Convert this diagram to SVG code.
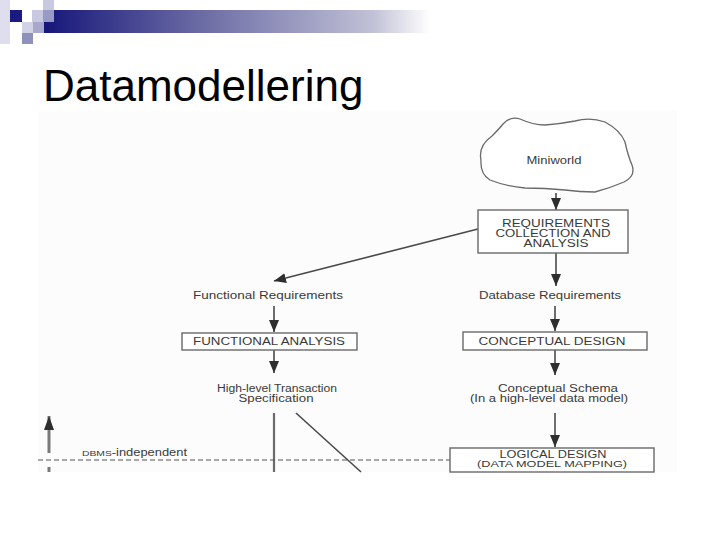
<svg xmlns="http://www.w3.org/2000/svg" width="720" height="540" viewBox="0 0 720 540">
  <defs>
    <linearGradient id="bar" x1="44" y1="0" x2="430" y2="0" gradientUnits="userSpaceOnUse">
      <stop offset="0" stop-color="#16167a"/>
      <stop offset="0.4" stop-color="#6a6aa4"/>
      <stop offset="0.85" stop-color="#c0c0d6"/>
      <stop offset="1" stop-color="#ffffff"/>
    </linearGradient>
    <marker id="ah" markerUnits="userSpaceOnUse" markerWidth="12" markerHeight="10" refX="12" refY="5" orient="auto" viewBox="0 0 12 10">
      <path d="M0,0 L12,5 L0,10 z" fill="#2e2e2e"/>
    </marker>
    <marker id="ahBig" markerUnits="userSpaceOnUse" markerWidth="14" markerHeight="10" refX="14" refY="5" orient="auto" viewBox="0 0 14 10">
      <path d="M0,0 L14,5 L0,10 z" fill="#2e2e2e"/>
    </marker>
    <style>
      .lbl { font-family: "Liberation Sans", Arial, sans-serif; font-size: 10px; fill: #3a3a3a; text-anchor: middle; }
      .box { fill: #ffffff; stroke: #6a6a6a; stroke-width: 1.4; }
      .ln { stroke: #4a4a4a; stroke-width: 1.6; fill: none; }
      .thick { stroke: #6c6c6c; stroke-width: 2.2; fill: none; }
    </style>
  </defs>

  <rect width="720" height="540" fill="#ffffff"/>

  <!-- template decoration -->
  <g id="decoration">
    <rect x="0" y="0" width="10" height="44" fill="#dedeee"/>
    <rect x="44" y="10" width="390" height="23" fill="url(#bar)"/>
    <rect x="10" y="10" width="12" height="12" fill="#1a1a80"/>
    <rect x="32" y="10" width="11" height="12" fill="#c8c8e0"/>
    <rect x="43" y="0" width="11" height="10" fill="#c8c8e0"/>
    <rect x="43" y="10" width="11" height="12" fill="#9a9ac6"/>
    <rect x="22" y="22" width="11" height="11" fill="#d2d2e6"/>
    <rect x="33" y="22" width="11" height="11" fill="#a8a8cc"/>
    <rect x="22" y="33" width="11" height="11" fill="#9090bc"/>
  </g>

  <text id="title" x="43" y="101" font-family="Liberation Sans, Arial, sans-serif" font-size="44" fill="#000000">Datamodellering</text>

  <!-- picture area -->
  <rect x="38" y="111" width="639" height="361" fill="#fcfcfc"/>

  <g id="connectors">
    <line class="ln" x1="556" y1="193" x2="556" y2="210" marker-end="url(#ah)"/>
    <line class="ln" x1="556" y1="253" x2="556" y2="286" marker-end="url(#ah)"/>
    <line class="ln" x1="478" y1="229" x2="274" y2="281" stroke-width="1.2" marker-end="url(#ah)"/>
    <line class="ln" x1="274" y1="306" x2="274" y2="332" marker-end="url(#ah)"/>
    <line class="ln" x1="555" y1="306" x2="555" y2="331" marker-end="url(#ah)"/>
    <line class="ln" x1="274" y1="350" x2="274" y2="373" marker-end="url(#ah)"/>
    <line class="ln" x1="555" y1="350" x2="555" y2="375" marker-end="url(#ah)"/>
    <line class="ln" x1="555" y1="413" x2="555" y2="447" marker-end="url(#ah)"/>
    <line class="thick" x1="274" y1="413" x2="274" y2="472"/>
    <line class="ln" x1="296" y1="413" x2="361" y2="472" stroke-width="1.2"/>
    <line x1="38" y1="460" x2="450" y2="460" stroke="#555555" stroke-width="1" stroke-dasharray="5,3"/>
    <line x1="49" y1="453" x2="49" y2="416" stroke="#7a7a7a" stroke-width="3" marker-end="url(#ahBig)"/>
    <line x1="49" y1="467" x2="49" y2="472" stroke="#7a7a7a" stroke-width="3"/>
  </g>

  <g id="miniworld">
    <path d="M481,160 Q478,146 492,136 Q500,128 503,124 Q510,116 520,119 Q533,125 545,125 Q560,124 575,121 Q590,117 605,122 Q620,130 625,142 Q628,156 632,165 Q636,176 624,182 Q610,188 595,192 Q580,192 565,190 Q545,188 525,188 Q505,186 490,180 Q480,174 481,160 Z" fill="#ffffff" stroke="#6a6a6a" stroke-width="1.3"/>
    <text class="lbl" x="554" y="164" textLength="55" lengthAdjust="spacingAndGlyphs">Miniworld</text>
  </g>

  <g id="requirements">
    <rect class="box" x="478" y="210" width="150" height="43"/>
    <text class="lbl" x="556" y="227" textLength="108" lengthAdjust="spacingAndGlyphs">REQUIREMENTS</text>
    <text class="lbl" x="553" y="237" textLength="115" lengthAdjust="spacingAndGlyphs">COLLECTION AND</text>
    <text class="lbl" x="556" y="247" textLength="65" lengthAdjust="spacingAndGlyphs">ANALYSIS</text>
  </g>

  <g id="functional-requirements">
    <text class="lbl" x="268" y="299" textLength="150" lengthAdjust="spacingAndGlyphs">Functional Requirements</text>
  </g>

  <g id="database-requirements">
    <text class="lbl" x="550" y="299" textLength="142" lengthAdjust="spacingAndGlyphs">Database Requirements</text>
  </g>

  <g id="functional-analysis">
    <rect class="box" x="182" y="333" width="175" height="17"/>
    <text class="lbl" x="269" y="345" textLength="152" lengthAdjust="spacingAndGlyphs">FUNCTIONAL ANALYSIS</text>
  </g>

  <g id="conceptual-design">
    <rect class="box" x="463" y="332" width="184" height="18"/>
    <text class="lbl" x="552" y="345" textLength="147" lengthAdjust="spacingAndGlyphs">CONCEPTUAL DESIGN</text>
  </g>

  <g id="transaction-spec">
    <text class="lbl" x="277" y="392" textLength="120" lengthAdjust="spacingAndGlyphs">High-level Transaction</text>
    <text class="lbl" x="276" y="402" textLength="75" lengthAdjust="spacingAndGlyphs">Specification</text>
  </g>

  <g id="conceptual-schema">
    <text class="lbl" x="558" y="392" textLength="120" lengthAdjust="spacingAndGlyphs">Conceptual Schema</text>
    <text class="lbl" x="549" y="402" textLength="158" lengthAdjust="spacingAndGlyphs">(In a high-level data model)</text>
  </g>

  <g id="logical-design">
    <rect class="box" x="450" y="448" width="204" height="24"/>
    <text class="lbl" x="553" y="458" textLength="107" lengthAdjust="spacingAndGlyphs">LOGICAL DESIGN</text>
    <text class="lbl" x="552" y="467" font-size="9" style="font-size:9px" textLength="150" lengthAdjust="spacingAndGlyphs">(DATA MODEL MAPPING)</text>
  </g>

  <g id="dbms-independent">
    <text class="lbl" x="82" y="456" style="text-anchor:start" textLength="105" lengthAdjust="spacingAndGlyphs"><tspan font-size="8">DBMS</tspan>-independent</text>
  </g>
</svg>
